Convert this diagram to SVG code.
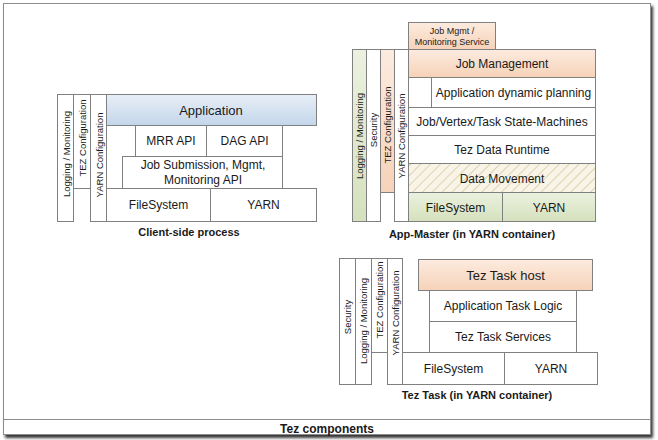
<svg xmlns="http://www.w3.org/2000/svg" width="658" height="440" viewBox="0 0 658 440">
<defs>
<linearGradient id="gBlue" x1="0" y1="0" x2="0" y2="1"><stop offset="0" stop-color="#e8eff7"/><stop offset="1" stop-color="#c3d6ea"/></linearGradient>
<linearGradient id="gPeach" x1="0" y1="0" x2="0" y2="1"><stop offset="0" stop-color="#fcebdf"/><stop offset="1" stop-color="#f6d2b8"/></linearGradient>
<linearGradient id="gGreen" x1="0" y1="0" x2="0" y2="1"><stop offset="0" stop-color="#ebf1df"/><stop offset="1" stop-color="#d5e1bd"/></linearGradient>
<pattern id="hatch" patternUnits="userSpaceOnUse" width="7" height="7" patternTransform="rotate(45)">
<rect width="7" height="7" fill="#f8f4e8"/>
<line x1="0" y1="0" x2="0" y2="7" stroke="#d8cba0" stroke-width="1.6"/>
</pattern>
<filter id="shadow" x="-5%" y="-5%" width="110%" height="110%">
<feGaussianBlur in="SourceAlpha" stdDeviation="1.5"/>
<feOffset dx="2" dy="3" result="b"/>
<feComponentTransfer><feFuncA type="linear" slope="0.8"/></feComponentTransfer>
<feMerge><feMergeNode/><feMergeNode in="SourceGraphic"/></feMerge>
</filter>
</defs>
<style>
rect.b{stroke:#808080;stroke-width:1;fill:#fff}
rect.peach{fill:url(#gPeach)}
rect.green{fill:url(#gGreen)}
rect.blue{fill:url(#gBlue)}
rect.hatch{fill:url(#hatch)}
text{font-family:"Liberation Sans",Arial,sans-serif;fill:#1a1a1a;text-anchor:middle;dominant-baseline:central}
.t{font-size:12px}
.tl{font-size:13px}
.v{font-size:9.5px}
.s{font-size:9px}
.cap{font-size:11px;font-weight:bold}
</style>

<g id="frame">
<rect x="3.5" y="3.5" width="647" height="431" fill="#fff" stroke="#8c8c8c" filter="url(#shadow)"/>
<line x1="3.5" y1="419.5" x2="650.5" y2="419.5" stroke="#8c8c8c"/>
<text x="327" y="429" class="cap" style="font-size:12px">Tez components</text>
</g>

<!-- Client-side process -->
<g id="client">
<g id="c-logging"><rect class="b" x="57.5" y="94.5" width="16" height="127"/><text class="v" transform="translate(66,154) rotate(-90)">Logging / Monitoring</text></g>
<g id="c-tezconf"><rect class="b" x="73.5" y="94.5" width="17" height="94"/><text class="v" transform="translate(82.5,138) rotate(-90)">TEZ Configuration</text></g>
<g id="c-yarnconf"><rect class="b" x="90.5" y="94.5" width="16" height="127"/><text class="v" transform="translate(99,155) rotate(-90)">YARN Configuration</text></g>
<g id="c-app"><rect class="b blue" x="106.5" y="94.5" width="210" height="31"/><text class="tl" x="211" y="110">Application</text></g>
<g id="c-mrr"><rect class="b" x="135.5" y="125.5" width="71" height="31"/><text class="t" x="171" y="141">MRR API</text></g>
<g id="c-dag"><rect class="b" x="206.5" y="125.5" width="76" height="31"/><text class="t" x="244.5" y="141">DAG API</text></g>
<g id="c-jobsub"><rect class="b" x="122.5" y="156.5" width="160" height="32"/><text class="t" x="203" y="164.5">Job Submission, Mgmt,</text><text class="t" x="203" y="180">Monitoring API</text></g>
<g id="c-fs"><rect class="b" x="106.5" y="188.5" width="104" height="33"/><text class="t" x="158.5" y="205">FileSystem</text></g>
<g id="c-yarn"><rect class="b" x="210.5" y="188.5" width="106" height="33"/><text class="t" x="263.5" y="205">YARN</text></g>
<text class="cap" x="189" y="232">Client-side process</text>
</g>

<!-- App-Master -->
<g id="appmaster">
<g id="a-jobsvc"><rect class="b peach" x="408.5" y="22.5" width="87" height="27"/><text class="s" x="452" y="30.5">Job Mgmt /</text><text class="s" x="452" y="42">Monitoring Service</text></g>
<g id="a-logging"><rect class="b green" x="352.5" y="49.5" width="14" height="172"/><text class="v" transform="translate(359.5,136) rotate(-90)">Logging / Monitoring</text></g>
<g id="a-security"><rect class="b" x="366.5" y="49.5" width="14" height="172"/><text class="v" transform="translate(373.5,130) rotate(-90)">Security</text></g>
<g id="a-tezconf"><rect class="b peach" x="380.5" y="49.5" width="14" height="143"/><text class="v" transform="translate(387.5,125) rotate(-90)">TEZ Configuration</text></g>
<g id="a-yarnconf"><rect class="b" x="394.5" y="49.5" width="14" height="172"/><text class="v" transform="translate(401.5,136) rotate(-90)">YARN Configuration</text></g>
<g id="a-jobmgmt"><rect class="b peach" x="408.5" y="49.5" width="187" height="28"/><text class="t" x="502" y="64">Job Management</text></g>
<g id="a-empty"><rect class="b" x="408.5" y="77.5" width="23" height="30"/></g>
<g id="a-plan"><rect class="b" x="431.5" y="77.5" width="164" height="30"/><text class="t" x="513.5" y="93">Application dynamic planning</text></g>
<g id="a-sm"><rect class="b" x="408.5" y="107.5" width="187" height="28"/><text class="t" x="502" y="122">Job/Vertex/Task State-Machines</text></g>
<g id="a-runtime"><rect class="b" x="408.5" y="135.5" width="187" height="28"/><text class="t" x="502" y="150">Tez Data Runtime</text></g>
<g id="a-datamove"><rect class="b hatch" x="408.5" y="163.5" width="187" height="29"/><text class="t" x="502" y="178.5">Data Movement</text></g>
<g id="a-fs"><rect class="b green" x="408.5" y="192.5" width="94" height="29"/><text class="t" x="455.5" y="207.5">FileSystem</text></g>
<g id="a-yarn"><rect class="b green" x="502.5" y="192.5" width="93" height="29"/><text class="t" x="549" y="207.5">YARN</text></g>
<text class="cap" x="472" y="234">App-Master (in YARN container)</text>
</g>

<!-- Tez Task -->
<g id="teztask">
<g id="t-security"><rect class="b" x="339.5" y="258.5" width="16" height="126"/><text class="v" transform="translate(347.5,317) rotate(-90)">Security</text></g>
<g id="t-logging"><rect class="b" x="355.5" y="258.5" width="16" height="126"/><text class="v" transform="translate(363.5,321) rotate(-90)">Logging / Monitoring</text></g>
<g id="t-tezconf"><rect class="b" x="371.5" y="258.5" width="16" height="94"/><text class="v" transform="translate(379.5,300) rotate(-90)">TEZ Configuration</text></g>
<g id="t-yarnconf"><rect class="b" x="387.5" y="258.5" width="15" height="126"/><text class="v" transform="translate(395,313) rotate(-90)">YARN Configuration</text></g>
<g id="t-host"><rect class="b peach" x="418.5" y="259.5" width="174" height="31"/><text class="tl" x="505.5" y="275">Tez Task host</text></g>
<g id="t-logic"><rect class="b" x="429.5" y="290.5" width="147" height="31"/><text class="t" x="503" y="306">Application Task Logic</text></g>
<g id="t-services"><rect class="b" x="429.5" y="321.5" width="147" height="31"/><text class="t" x="503" y="337">Tez Task Services</text></g>
<g id="t-fs"><rect class="b" x="402.5" y="352.5" width="102" height="32"/><text class="t" x="453.5" y="368.5">FileSystem</text></g>
<g id="t-yarn"><rect class="b" x="504.5" y="352.5" width="93" height="32"/><text class="t" x="551" y="368.5">YARN</text></g>
<text class="cap" x="477" y="395">Tez Task (in YARN container)</text>
</g>

<g id="connectors"></g>
</svg>
